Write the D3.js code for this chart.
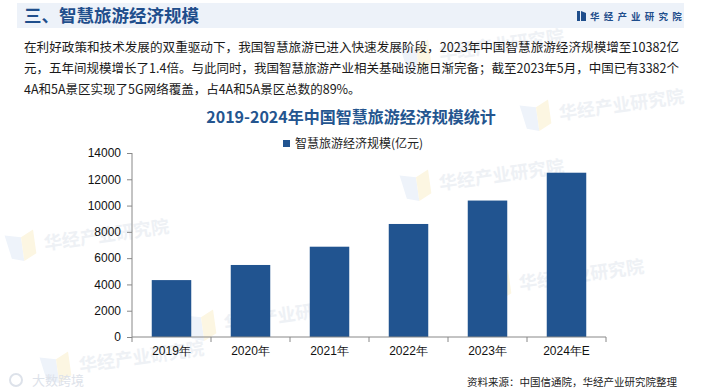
<!DOCTYPE html>
<html><head><meta charset="utf-8">
<script src="https://cdn.jsdelivr.net/npm/d3@7"></script>
<style>html,body{margin:0;padding:0;background:#fff;}svg{display:block;}</style>
</head><body>
<svg id="c" width="704" height="390"></svg>
<script>
const categories = ["2019年","2020年","2021年","2022年","2023年","2024年E"];
const values = [4330, 5480, 6870, 8600, 10382, 12500];
const yTicks = [0,2000,4000,6000,8000,10000,12000,14000];
const seriesName = "智慧旅游经济规模(亿元)";
const chartTitle = "2019-2024年中国智慧旅游经济规模统计";
const sectionTitle = "三、智慧旅游经济规模";
const paragraph = [
  "在利好政策和技术发展的双重驱动下，我国智慧旅游已进入快速发展阶段，2023年中国智慧旅游经济规模增至10382亿",
  "元，五年间规模增长了1.4倍。与此同时，我国智慧旅游产业相关基础设施日渐完备；截至2023年5月，中国已有3382个",
  "4A和5A景区实现了5G网络覆盖，占4A和5A景区总数的89%。"
];
const sourceText = "资料来源：中国信通院，华经产业研究院整理";
const brand = "华经产业研究院";

const svg = d3.select("#c");
const CJK = "'Noto Sans CJK SC','Noto Sans',sans-serif";
const BLUE = "#1F4E8C";
const BAR = "#215490";

// header band
svg.append("rect").attr("x",17).attr("y",3).attr("width",667).attr("height",25).attr("fill","#EDF2F9");

// watermarks (faint)
const wm = [[440,60],[440,190],[45,250],[225,330],[560,120],[520,290],[80,372]];
wm.forEach(([x,y])=>{
  const g = svg.append("g").attr("transform",`translate(${x},${y}) rotate(-8)`);
  g.append("path").attr("d","M-38,-20 L-22,-16 L-22,8 L-34,4 Z").attr("fill","#EEF3FA");
  g.append("path").attr("d","M-22,-16 L-9,-22 L-9,2 L-22,8 Z").attr("fill","#FCF6E2");
  g.append("text").attr("x",0).attr("y",0).attr("font-family",CJK).attr("font-weight","bold")
    .attr("font-size",18).attr("fill","#EEF1F5").text(brand);
});

svg.append("text").attr("x",24).attr("y",22).attr("font-family",CJK).attr("font-weight","bold")
  .attr("font-size",17.5).attr("fill",BLUE).text(sectionTitle);
// brand logo
svg.append("rect").attr("x",577).attr("y",11).attr("width",3).attr("height",10).attr("fill",BLUE);
svg.append("path").attr("d","M581,11 L586,13 L586,21 L581,21 Z").attr("fill",BLUE);
svg.append("text").attr("x",590).attr("y",20).attr("font-family",CJK).attr("font-weight","bold")
  .attr("font-size",9.5).attr("letter-spacing",4.2).attr("fill",BLUE).text(brand);

// paragraph
const lineY = [52, 73, 94];
paragraph.forEach((t,i)=>{
  const tx = svg.append("text").attr("x",24).attr("y",lineY[i]).attr("font-family",CJK)
    .attr("font-size",12.5).attr("fill","#1a1a1a").text(t);
  if (i<2) tx.attr("textLength",655).attr("lengthAdjust","spacingAndGlyphs");
});

// chart title
svg.append("text").attr("x",351).attr("y",123).attr("text-anchor","middle").attr("font-family",CJK)
  .attr("font-weight","bold").attr("font-size",16).attr("fill","#24558F").text(chartTitle);

// legend
svg.append("rect").attr("x",283).attr("y",140).attr("width",7).attr("height",7).attr("fill",BAR);
svg.append("text").attr("x",295).attr("y",148).attr("font-family",CJK).attr("font-size",12)
  .attr("fill","#222").text(seriesName);

// scales
const x = d3.scaleBand().domain(categories).range([132,606]).paddingInner(0.5).paddingOuter(0.25);
const y = d3.scaleLinear().domain([0,14000]).range([337,153]);

// bars
svg.append("g").selectAll("rect").data(values).join("rect")
  .attr("x",(d,i)=>x(categories[i])).attr("y",d=>y(d))
  .attr("width",x.bandwidth()).attr("height",d=>y(0)-y(d)).attr("fill",BAR);

// y axis
const ya = svg.append("g").attr("transform","translate(132,0)")
  .call(d3.axisLeft(y).tickValues(yTicks).tickSize(5).tickPadding(6).tickFormat(d3.format("d")));
ya.select(".domain").attr("stroke","#888").attr("d","M0,153V337");
ya.selectAll(".tick line").attr("stroke","#888");
ya.selectAll("text").attr("font-family","'Liberation Sans',Arial,sans-serif").attr("font-size",12).attr("fill","#111");

// x axis
const xa = svg.append("g").attr("transform","translate(0,337)")
  .call(d3.axisBottom(x).tickSize(0).tickPadding(9));
xa.select(".domain").attr("stroke","#888").attr("d","M132,0H606");
xa.selectAll("text").attr("font-family","'Liberation Sans',Arial,sans-serif").attr("font-size",12).attr("fill","#111");
const gap = (x.step()-x.bandwidth())/2;
const bounds = categories.map(c=>x(c)-gap).concat([x(categories[categories.length-1])+x.bandwidth()+gap]);
xa.append("g").selectAll("line").data(bounds).join("line")
  .attr("x1",d=>d).attr("x2",d=>d).attr("y1",0).attr("y2",5).attr("stroke","#888");

// footer
svg.append("text").attr("x",677).attr("y",386).attr("text-anchor","end").attr("font-family",CJK)
  .attr("font-size",10.5).attr("fill","#222").text(sourceText);
svg.append("text").attr("x",32).attr("y",385).attr("font-family",CJK).attr("font-size",13)
  .attr("fill","#DDE2EA").text("大数跨境");
svg.append("circle").attr("cx",16).attr("cy",380).attr("r",6).attr("fill","none").attr("stroke","#DDE2EA").attr("stroke-width",2);
</script>
</body></html>
